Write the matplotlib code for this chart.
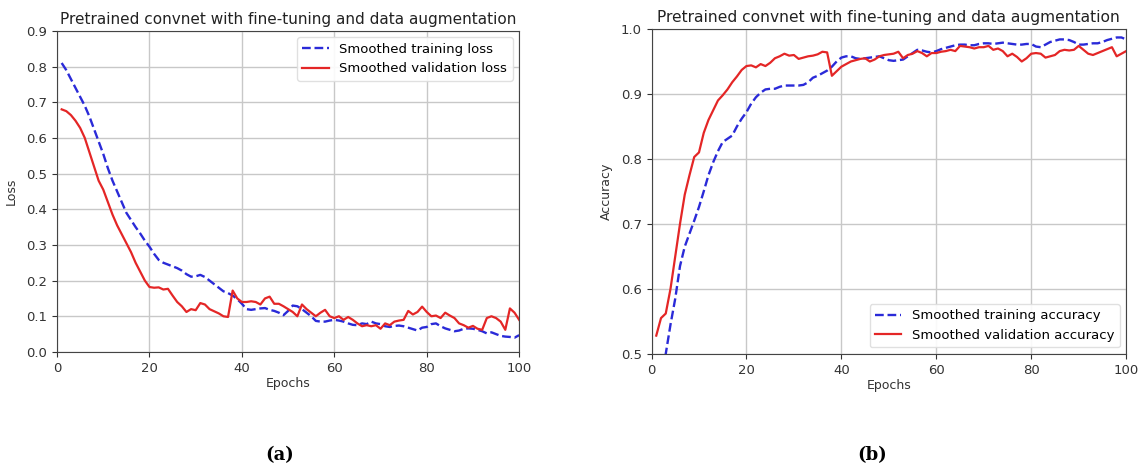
import numpy as np
import matplotlib
matplotlib.use('Agg')
import matplotlib.pyplot as plt

# ==========================================
# data (epochs 1..100)
# ==========================================
epochs = np.arange(1, 101)

train_loss = [
    0.81, 0.79, 0.765, 0.74, 0.715, 0.69, 0.66, 0.625, 0.59, 0.555,
    0.515, 0.48, 0.45, 0.42, 0.39, 0.37, 0.35, 0.332, 0.312, 0.295,
    0.275, 0.258, 0.25, 0.245, 0.24, 0.235, 0.228, 0.218, 0.211, 0.212,
    0.216, 0.21, 0.2, 0.19, 0.18, 0.17, 0.165, 0.158, 0.148, 0.135,
    0.12, 0.118, 0.12, 0.122, 0.123, 0.118, 0.115, 0.11, 0.103, 0.115,
    0.13, 0.128, 0.12, 0.11, 0.1, 0.087, 0.085, 0.085, 0.088, 0.09,
    0.088, 0.085, 0.08, 0.076, 0.075, 0.08, 0.078, 0.085, 0.08, 0.078,
    0.072, 0.07, 0.073, 0.074, 0.072, 0.068, 0.064, 0.06, 0.068, 0.07,
    0.078, 0.08, 0.072, 0.066, 0.062, 0.058, 0.06, 0.065, 0.066, 0.065,
    0.062, 0.058, 0.052, 0.055, 0.05, 0.045, 0.043, 0.042, 0.04, 0.047,
]
val_loss = [
    0.68, 0.675, 0.664, 0.648, 0.628, 0.6, 0.56, 0.52, 0.48, 0.455,
    0.42, 0.385, 0.355, 0.33, 0.305, 0.28, 0.25, 0.225, 0.2, 0.182,
    0.18, 0.181, 0.175, 0.177, 0.158, 0.14, 0.128, 0.112, 0.12, 0.117,
    0.137, 0.133, 0.12, 0.114, 0.108, 0.1, 0.098, 0.172, 0.15, 0.14,
    0.14, 0.142, 0.14, 0.133, 0.15, 0.155, 0.135, 0.135, 0.128, 0.12,
    0.112, 0.1, 0.133, 0.12, 0.11, 0.1, 0.11, 0.118, 0.1, 0.095,
    0.1, 0.09, 0.098, 0.09, 0.08, 0.072, 0.075, 0.072, 0.075, 0.065,
    0.08, 0.075, 0.085, 0.088, 0.09, 0.115, 0.105, 0.112, 0.127, 0.112,
    0.1, 0.102, 0.095, 0.11, 0.102, 0.095, 0.08, 0.075, 0.068, 0.073,
    0.065, 0.062, 0.095, 0.1, 0.095, 0.085, 0.062, 0.122, 0.11, 0.09,
]
train_acc = [
    0.44, 0.47, 0.50, 0.545, 0.585, 0.635, 0.665, 0.685, 0.705, 0.726,
    0.75, 0.775, 0.795, 0.812, 0.826, 0.831, 0.836, 0.85, 0.862, 0.872,
    0.885, 0.895, 0.902, 0.907, 0.908, 0.908, 0.911, 0.913, 0.913, 0.913,
    0.913, 0.914, 0.918, 0.925, 0.928, 0.932, 0.936, 0.942, 0.95, 0.956,
    0.958, 0.958, 0.955, 0.954, 0.955, 0.956, 0.957, 0.958, 0.955, 0.952,
    0.951, 0.952, 0.953, 0.958, 0.963, 0.968, 0.967, 0.965, 0.964, 0.966,
    0.969, 0.971, 0.973, 0.975, 0.976, 0.976, 0.975, 0.975, 0.977, 0.978,
    0.978, 0.977, 0.978, 0.979, 0.978, 0.977, 0.976, 0.976, 0.977, 0.977,
    0.973, 0.972, 0.976, 0.98, 0.982, 0.984, 0.984, 0.983, 0.98, 0.976,
    0.976, 0.977, 0.978, 0.978, 0.98, 0.983, 0.985, 0.987, 0.987, 0.984,
]
val_acc = [
    0.528, 0.555, 0.562, 0.6, 0.65, 0.70, 0.745, 0.775, 0.803, 0.81,
    0.84, 0.86, 0.875, 0.89, 0.898, 0.907, 0.918, 0.927, 0.937, 0.943,
    0.944, 0.941, 0.946, 0.943, 0.948, 0.955, 0.958, 0.962, 0.959, 0.96,
    0.954, 0.956, 0.958, 0.959, 0.961, 0.965, 0.964, 0.928, 0.935, 0.942,
    0.946, 0.95, 0.952, 0.954, 0.955, 0.95, 0.953, 0.958, 0.96, 0.961,
    0.962, 0.965, 0.955, 0.96, 0.962, 0.966, 0.963, 0.958, 0.963, 0.963,
    0.965, 0.966, 0.968, 0.966, 0.974, 0.973, 0.972, 0.97, 0.972, 0.972,
    0.974, 0.968, 0.97, 0.966, 0.958, 0.962, 0.957, 0.95, 0.955, 0.962,
    0.963, 0.962, 0.956, 0.958, 0.96, 0.966, 0.968, 0.967, 0.968, 0.974,
    0.968, 0.962, 0.96, 0.963, 0.966, 0.969, 0.972, 0.958, 0.962, 0.966,
]

title = 'Pretrained convnet with fine-tuning and data augmentation'

plt.rcParams['font.family'] = ['DejaVu Sans']
plt.rcParams['font.size'] = 9

fig = plt.figure(figsize=(11.41, 4.68), dpi=100)
ax1 = fig.add_axes([0.050, 0.248, 0.405, 0.686])
ax2 = fig.add_axes([0.571, 0.244, 0.416, 0.694])

blue = '#2a2ad8'
red = '#e42626'

def style(ax):
    ax.grid(True, color='#c8c8c8', linewidth=1.0)
    ax.set_axisbelow(True)
    for s in ax.spines.values():
        s.set_color('#444444')
    ax.tick_params(colors='#333333', labelsize=9.5, labelcolor='#333333')
    ax.set_xlim(0, 100)
    ax.set_xticks([0, 20, 40, 60, 80, 100])

# (a) loss
ax1.plot(epochs, train_loss, '--', color=blue, lw=1.7, label='Smoothed training loss')
ax1.plot(epochs, val_loss, '-', color=red, lw=1.6, label='Smoothed validation loss')
style(ax1)
ax1.set_ylim(0, 0.9)
ax1.set_yticks(np.arange(0, 0.91, 0.1))
ax1.set_title(title, fontsize=11, color='#222222', pad=5)
ax1.set_xlabel('Epochs', fontsize=9, color='#333333', labelpad=2)
ax1.set_ylabel('Loss', fontsize=9, color='#333333', labelpad=6)
ax1.legend(loc='upper right', fontsize=9.5, framealpha=0.9, edgecolor='#dddddd')

# (b) accuracy
ax2.plot(epochs, train_acc, '--', color=blue, lw=1.7, label='Smoothed training accuracy')
ax2.plot(epochs, val_acc, '-', color=red, lw=1.6, label='Smoothed validation accuracy')
style(ax2)
ax2.set_ylim(0.5, 1.0)
ax2.set_yticks(np.arange(0.5, 1.01, 0.1))
ax2.set_title(title, fontsize=11.2, color='#222222', pad=5)
ax2.set_xlabel('Epochs', fontsize=9, color='#333333', labelpad=2)
ax2.set_ylabel('Accuracy', fontsize=9, color='#333333', labelpad=6)
ax2.legend(loc='lower right', fontsize=9.5, framealpha=0.9, edgecolor='#dddddd')

fig.text(280 / 1141, 1 - 455 / 468, '(a)', ha='center', va='center',
         fontsize=13, fontweight='bold', family='DejaVu Serif')
fig.text(872 / 1141, 1 - 455 / 468, '(b)', ha='center', va='center',
         fontsize=13, fontweight='bold', family='DejaVu Serif')

fig.savefig('out.png', dpi=100)
